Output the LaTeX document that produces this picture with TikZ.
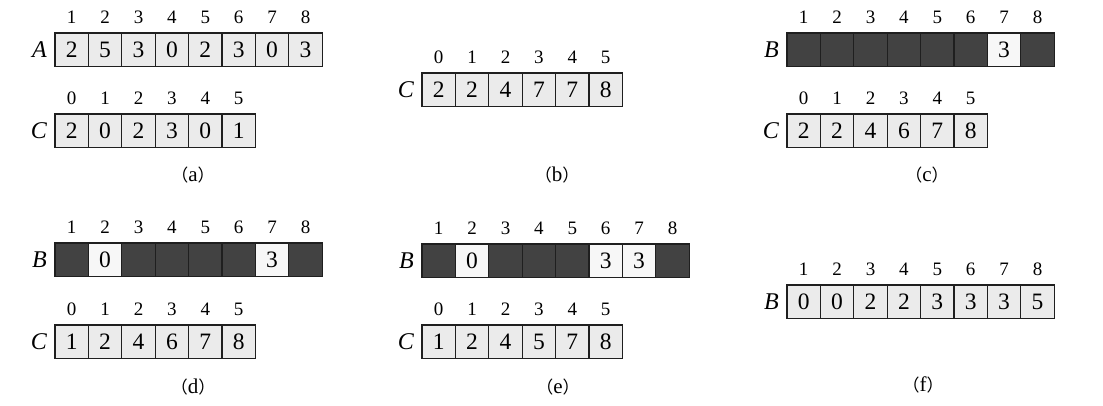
\documentclass[tikz,border=0pt]{standalone}
\usepackage{fontspec}
\setmainfont{Liberation Serif}
\newfontfamily\cjk{Noto Sans CJK SC}
\definecolor{graycellc}{gray}{0.92}
\definecolor{darkcellc}{gray}{0.26}
\definecolor{whitecellc}{gray}{0.97}
\definecolor{linec}{gray}{0.12}
\tikzset{
  cellbox/.style={draw=linec, line width=1.1pt, minimum width=33.4pt, minimum height=33.4pt,
    inner sep=0pt, font=\fontsize{23.5}{23.5}\selectfont},
  graycell/.style={fill=graycellc},
  darkcell/.style={fill=darkcellc},
  whitecell/.style={fill=whitecellc},
  idxnum/.style={inner sep=0pt, font=\fontsize{19}{19}\selectfont},
  arrname/.style={anchor=east, inner sep=0pt, font=\fontsize{24}{24}\selectfont\itshape},
  captext/.style={inner sep=0pt, font=\fontsize{21}{21}\selectfont}
}
% #1 name, #2 x left, #3 y top, #4 label, #5 first index, #6 list value/style
\newcommand{\arrayrow}[6]{%
  \node[arrname] (#1-lab) at (#2-8, #3+16.7) {#4};
  \foreach \v/\s [count=\i from 0] in {#6} {
    \pgfmathtruncatemacro\idx{\i+#5}
    \node[cellbox,\s] (#1-\i) at ({#2+16.7+33.4*\i}, #3+16.7) {\v};
    \node[idxnum] (#1-h\i) at ({#2+16.7+33.4*\i}, #3-16) {\idx};
  }
}
\newcommand{\capt}[1]{{\fontsize{17}{17}\cjk （}#1{\fontsize{17}{17}\cjk ）}}
\begin{document}
\begin{tikzpicture}[x=1pt,y=-1pt]
\useasboundingbox (0,0) rectangle (1103,405);
% (a)
\arrayrow{aA}{55}{33}{A}{1}{2/graycell,5/graycell,3/graycell,0/graycell,2/graycell,3/graycell,0/graycell,3/graycell}
\arrayrow{aC}{55}{114}{C}{0}{2/graycell,0/graycell,2/graycell,3/graycell,0/graycell,1/graycell}
\node[captext] (capa) at (193,175) {\capt{a}};
% (b)
\arrayrow{bC}{422}{73}{C}{0}{2/graycell,2/graycell,4/graycell,7/graycell,7/graycell,8/graycell}
\node[captext] (capb) at (557,175) {\capt{b}};
% (c)
\arrayrow{cB}{787}{33}{B}{1}{/darkcell,/darkcell,/darkcell,/darkcell,/darkcell,/darkcell,3/whitecell,/darkcell}
\arrayrow{cC}{787}{114}{C}{0}{2/graycell,2/graycell,4/graycell,6/graycell,7/graycell,8/graycell}
\node[captext] (capc) at (927,175) {\capt{c}};
% (d)
\arrayrow{dB}{55}{243}{B}{1}{/darkcell,0/whitecell,/darkcell,/darkcell,/darkcell,/darkcell,3/whitecell,/darkcell}
\arrayrow{dC}{55}{325}{C}{0}{1/graycell,2/graycell,4/graycell,6/graycell,7/graycell,8/graycell}
\node[captext] (capd) at (193,387) {\capt{d}};
% (e)
\arrayrow{eB}{422}{244}{B}{1}{/darkcell,0/whitecell,/darkcell,/darkcell,/darkcell,3/whitecell,3/whitecell,/darkcell}
\arrayrow{eC}{422}{325}{C}{0}{1/graycell,2/graycell,4/graycell,5/graycell,7/graycell,8/graycell}
\node[captext] (cape) at (558,387) {\capt{e}};
% (f)
\arrayrow{fB}{787}{285}{B}{1}{0/graycell,0/graycell,2/graycell,2/graycell,3/graycell,3/graycell,3/graycell,5/graycell}
\node[captext] (capf) at (923,385) {\capt{f}};
\end{tikzpicture}
\end{document}
